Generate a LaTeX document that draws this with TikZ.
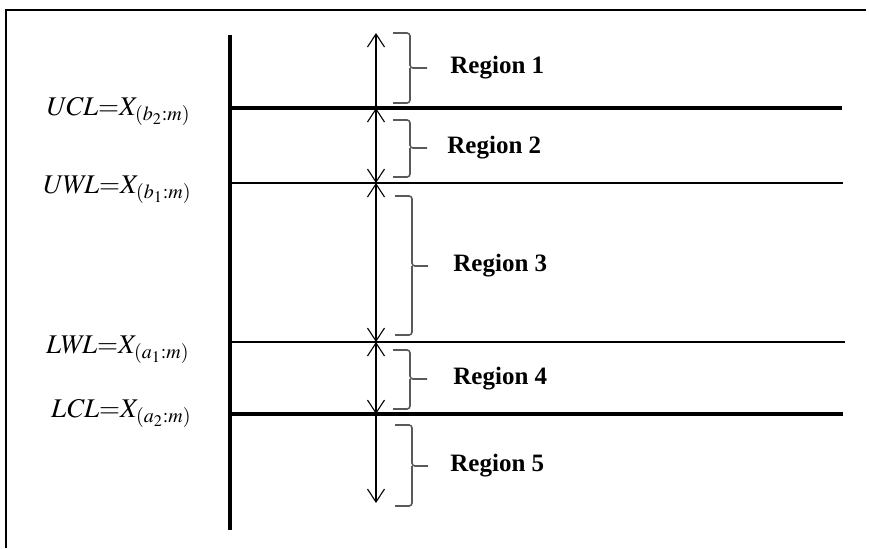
\documentclass[tikz,border=0pt]{standalone}
\usepackage{mathptmx}
\usepackage{fontspec}
\setmainfont{Liberation Serif}
\usetikzlibrary{arrows.meta,positioning}

\begin{document}
\begin{tikzpicture}[x=0.5pt, y=-0.5pt,
    frame/.style={line width=0.8pt},
    axis/.style={line width=2pt},
    ctrl/.style={line width=2pt},
    warn/.style={line width=0.75pt},
    span/.style={line width=0.55pt, >={Straight Barb[length=6.5pt, width=8.5pt, line width=0.55pt]}},
    brc/.style={draw=black!65, line width=0.8pt, rounded corners=1.5pt},
    region/.style={font=\bfseries\fontsize{12.5}{15}\selectfont, inner sep=0pt, anchor=west},
    lim/.style={font=\fontsize{13.5}{16}\selectfont, inner sep=0pt, anchor=base east}]

    \useasboundingbox (0,0) rectangle (869,548);

    % Frame
    \draw[frame] (5,10) -- (866,10);
    \draw[frame] (6,10) -- (6,548);

    % Axis and limits
    \coordinate (ax0) at (230,35);
    \coordinate (ax1) at (230,530);
    \draw[axis] (ax0) -- (ax1);

    \coordinate (ucl) at (230,108);  \coordinate (ucl-e) at (842,108);
    \coordinate (uwl) at (230,183);  \coordinate (uwl-e) at (843,183);
    \coordinate (lwl) at (230,342);  \coordinate (lwl-e) at (845,342);
    \coordinate (lcl) at (230,414);  \coordinate (lcl-e) at (843,414);

    \draw[ctrl] (ucl) -- (ucl-e);
    \draw[warn] (uwl) -- (uwl-e);
    \draw[warn] (lwl) -- (lwl-e);
    \draw[ctrl] (lcl) -- (lcl-e);

    % Limit labels
    \node[lim] (uclt) at (191,115) {$\mathit{UCL}{=}X_{(b_2:m)}$};
    \node[lim] (uwlt) at (192,193) {$\mathit{UWL}{=}X_{(b_1:m)}$};
    \node[lim] (lwlt) at (190,353) {$\mathit{LWL}{=}X_{(a_1:m)}$};
    \node[lim] (lclt) at (192,417) {$\mathit{LCL}{=}X_{(a_2:m)}$};

    % Arrows
    \coordinate (a0) at (376,33);
    \coordinate (a1) at (376,108);
    \coordinate (a2) at (376,183);
    \coordinate (a3) at (376,342);
    \coordinate (a4) at (376,414);
    \coordinate (a5) at (376,503);
    \draw[span, ->] (a1) -- (a0);
    \draw[span, <->] (a1) -- (a2);
    \draw[span, <->] (a2) -- (a3);
    \draw[span, <->] (a3) -- (a4);
    \draw[span, ->] (a4) -- (a5);

    % Braces
    \draw[brc] (393,33) -| (410,68) -- (427,68) coordinate (t1);
    \draw[brc] (410,68) |- (393,103);
    \draw[brc] (393,120) -| (410,148) -- (427,148) coordinate (t2);
    \draw[brc] (410,148) |- (393,177);
    \draw[brc] (395,196) -| (412,266) -- (428,266) coordinate (t3);
    \draw[brc] (412,266) |- (395,335);
    \draw[brc] (393,350) -| (410,379) -- (427,379) coordinate (t4);
    \draw[brc] (410,379) |- (393,409);
    \draw[brc] (395,425) -| (412,466) -- (428,466) coordinate (t5);
    \draw[brc] (412,466) |- (395,506);

    % Region labels
    \node[region, right=11.5pt of t1] (r1) {Region 1};
    \node[region, right=10pt of t2] (r2) {Region 2};
    \node[region, right=12.5pt of t3] (r3) {Region 3};
    \node[region, right=13pt of t4] (r4) {Region 4};
    \node[region, right=11pt of t5] (r5) {Region 5};

\end{tikzpicture}
\end{document}
